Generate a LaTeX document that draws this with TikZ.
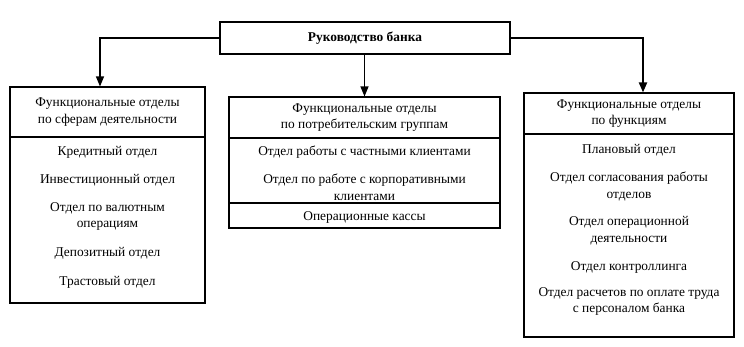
\documentclass[tikz,border=0pt]{standalone}
\usepackage{fontspec}
\setmainfont{Liberation Serif}
\usetikzlibrary{arrows.meta}
\newcommand{\deptfont}{\fontsize{13.4}{16.8}\selectfont}
\tikzset{
  unit/.style={draw, line width=1.1pt, inner sep=0pt, align=center},
  dept/.style={align=center, inner sep=0pt},
  link/.style={line width=1.1pt, -{Triangle[width=8pt,length=10pt]}},
  mainlink/.style={link, line width=2pt},
}

\begin{document}
\begin{tikzpicture}[x=1pt, y=-1pt, font=\deptfont]
\useasboundingbox (0,0) rectangle (744,346);
% management
\node[unit, minimum width=290, minimum height=32, font=\deptfont\bfseries] (boss) at (365,38) {Руководство банка};
% by field of activity
\node[unit, minimum width=195, minimum height=50] (sfhead) at (107.5,112) {Функциональные отделы\\по сферам деятельности};
\node[unit, minimum width=195, minimum height=166] (sfbody) at (107.5,220) {};
\node[dept] (sfcredit) at (107.5,152) {Кредитный отдел};
\node[dept] (sfinvest) at (107.5,180) {Инвестиционный отдел};
\node[dept] (sfcurr) at (107.5,216.5) {Отдел по валютным\\операциям};
\node[dept] (sfdepo) at (107.5,253) {Депозитный отдел};
\node[dept] (sftrust) at (107.5,282) {Трастовый отдел};
% by consumer groups
\node[unit, minimum width=271, minimum height=41] (cghead) at (364.5,117.5) {Функциональные отделы\\по потребительским группам};
\node[unit, minimum width=271, minimum height=65] (cgbody) at (364.5,170.5) {};
\node[unit, minimum width=271, minimum height=25] (cgcash) at (364.5,215.5) {};
\node[dept] (cgcashtext) at (364.5,217.5) {Операционные кассы};
\node[dept] (cgprivate) at (364.5,152) {Отдел работы с частными клиентами};
\node[dept] (cgcorp) at (364.5,187.5) {Отдел по работе с корпоративными\\клиентами};
% by function
\node[unit, minimum width=210, minimum height=41] (fnhead) at (629,113.5) {Функциональные отделы\\по функциям};
\node[unit, minimum width=210, minimum height=203] (fnbody) at (629,235.5) {};
\node[dept] (fnplan) at (629,150) {Плановый отдел};
\node[dept] (fncoord) at (629,186.5) {Отдел согласования работы\\отделов};
\node[dept] (fnoper) at (629,231) {Отдел операционной\\деятельности};
\node[dept] (fnctrl) at (629,267) {Отдел контроллинга};
\node[dept] (fnpay) at (629,301.5) {Отдел расчетов по оплате труда\\с персоналом банка};
% links
\draw[link] (boss.west) -| ([xshift=-7.5pt]sfhead.north);
\draw[link] (boss.south -| cghead.north) -- (cghead.north);
\draw[mainlink] (boss.east) -| ([xshift=14pt]fnhead.north);
\end{tikzpicture}
\end{document}
